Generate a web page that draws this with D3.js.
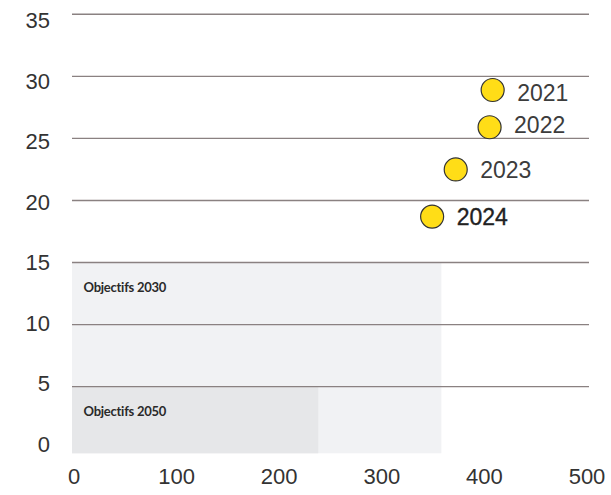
<!DOCTYPE html>
<html><head><meta charset="utf-8">
<script src="https://cdn.jsdelivr.net/npm/d3@7"></script>
<style>
html,body{margin:0;padding:0;background:#fff;}
svg{display:block;}
</style></head>
<body>
<svg id="chart" width="611" height="495"></svg>
<script>
// ---- data ----
const years = ["2021", "2022", "2023", "2024"];
const xValues = [410, 407, 374, 351];
const yValues = [28.9, 25.9, 22.5, 18.7];
const targetLabels = ["Objectifs 2030", "Objectifs 2050"];
const targetX = [360, 240];
const targetY = [15, 5];
const xTicks = [0, 100, 200, 300, 400, 500];
const yTicks = [0, 5, 10, 15, 20, 25, 30, 35];

// ---- layout ----
const svg = d3.select("#chart");
const x = d3.scaleLinear().domain([0, 500]).range([72, 585]);
const y = d3.scaleLinear().domain([0, 35]).range([448.7, 14.3]);
const yLab = d3.scaleLinear().domain([0, 35]).range([444, 20.8]);
const gridRight = 589;
const plotBottom = 453.3;
const font = "'Liberation Sans', Arial, Helvetica, sans-serif";

// target areas (2030 drawn first, 2050 on top)
svg.append("g").selectAll("rect")
  .data(targetLabels.map((l, i) => ({label: l, xv: targetX[i], yv: targetY[i], i})))
  .join("rect")
  .attr("x", x(0))
  .attr("y", d => y(d.yv))
  .attr("width", d => x(d.xv) - x(0))
  .attr("height", d => plotBottom - y(d.yv))
  .attr("fill", d => d.i === 0 ? "#f1f2f4" : "#e6e7e9");

svg.append("g").selectAll("text")
  .data(targetLabels.map((l, i) => ({label: l, yv: targetY[i]})))
  .join("text")
  .attr("x", x(0) + 11.5)
  .attr("y", d => y(d.yv) + 25)
  .attr("dy", "0.35em")
  .attr("font-family", "Lato, 'Open Sans', sans-serif")
  .attr("font-weight", 700)
  .attr("font-size", 13)
  .attr("letter-spacing", -0.25)
  .attr("fill", "#2a2a2a")
  .text(d => d.label);

// gridlines
svg.append("g").selectAll("line")
  .data(yTicks.filter(t => t > 0))
  .join("line")
  .attr("x1", x(0)).attr("x2", gridRight)
  .attr("y1", d => y(d)).attr("y2", d => y(d))
  .attr("stroke", "#8a8181")
  .attr("stroke-width", 1.4);

// y axis labels
const yAxis = svg.append("g")
  .attr("transform", "translate(50,0)")
  .call(d3.axisLeft(yLab).tickValues(yTicks).tickSize(0).tickPadding(0));
yAxis.select(".domain").remove();
yAxis.selectAll("text")
  .attr("font-family", font).attr("font-size", 22).attr("fill", "#333");

// x axis labels
const xAxis = svg.append("g")
  .attr("transform", "translate(1.5,468)")
  .call(d3.axisBottom(x).tickValues(xTicks).tickSize(0).tickPadding(0));
xAxis.select(".domain").remove();
xAxis.selectAll("text")
  .attr("font-family", font).attr("font-size", 22).attr("fill", "#333");

// points
const pts = years.map((yr, i) => ({yr, xv: xValues[i], yv: yValues[i]}));
const labelNudge = {"2021": 3, "2022": -2.7, "2023": 0, "2024": 0};

svg.append("g").selectAll("circle")
  .data(pts)
  .join("circle")
  .attr("cx", d => x(d.xv))
  .attr("cy", d => y(d.yv))
  .attr("r", 11.5)
  .attr("fill", "#ffdd17")
  .attr("stroke", "#333")
  .attr("stroke-width", 1.2);

svg.append("g").selectAll("text")
  .data(pts)
  .join("text")
  .attr("x", d => x(d.xv) + 24.5)
  .attr("y", d => y(d.yv) + labelNudge[d.yr])
  .attr("dy", "0.36em")
  .attr("font-family", font)
  .attr("font-size", 23)
  .attr("fill", d => d.yr === "2024" ? "#222" : "#3c3c3c")
  .attr("stroke", d => d.yr === "2024" ? "#222" : "none")
  .attr("stroke-width", 0.35)
  .text(d => d.yr);
</script>
</body></html>
